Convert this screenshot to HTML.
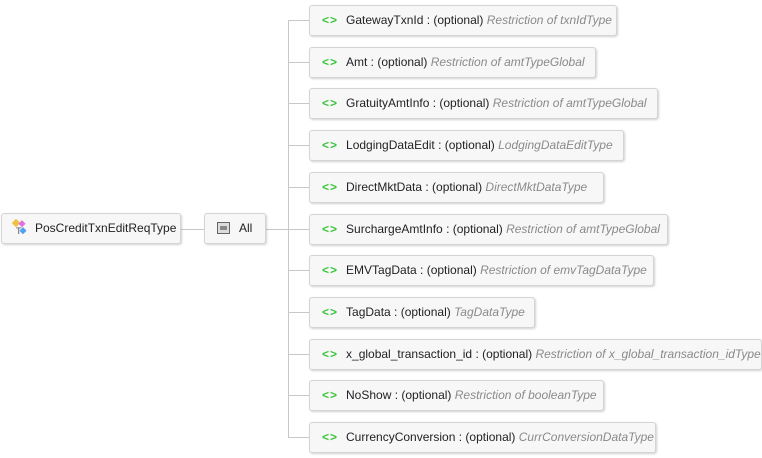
<!DOCTYPE html>
<html><head><meta charset="utf-8"><style>
body{margin:0;width:762px;height:458px;background:#fff;position:relative;overflow:hidden;font-family:"Liberation Sans",sans-serif;font-size:12px;color:#222}
.b{position:absolute;height:31px;box-sizing:border-box;border:1px solid #d4d4d4;border-radius:3px;background:#f7f7f7;box-shadow:1px 1px 2px rgba(0,0,0,.18);line-height:29px;white-space:nowrap;overflow:hidden;padding-left:12px}
.g{color:#3cc43c;font-weight:bold;margin-right:8px;letter-spacing:1px}
i{color:#8a8a8a}
.l{position:absolute;background:#c8c8c8}
</style></head><body>
<div class="l" style="left:181px;top:229px;width:23px;height:1px"></div>
<div class="l" style="left:266px;top:229px;width:22px;height:1px"></div>
<div class="l" style="left:288px;top:20px;width:1px;height:418px"></div>
<div class="b" style="left:1px;top:213px;width:180px;padding-left:10px">
<svg width="18" height="16" style="vertical-align:-3px;margin-right:5px"><rect x="1" y="1" width="6" height="6" fill="#f0c040" transform="rotate(45 4 4)"/><rect x="8" y="2" width="5" height="5" fill="#e070e0" transform="rotate(45 10 4)"/><rect x="9" y="9" width="5" height="5" fill="#50a0f0" transform="rotate(45 11 11)"/><text x="4" y="15" font-size="9" fill="#555">T</text></svg>PosCreditTxnEditReqType</div>
<div class="b" style="left:204px;top:213px;width:62px;">
<svg width="14" height="12" style="vertical-align:-2px;margin-right:8px"><rect x="0.5" y="0.5" width="12" height="11" fill="#ddd" stroke="#666"/><rect x="3" y="4" width="7" height="4" fill="#888"/></svg>All</div>
<div id="c"></div>
<script>
var d=[["GatewayTxnId","Restriction of txnIdType",617],["Amt","Restriction of amtTypeGlobal",596],["GratuityAmtInfo","Restriction of amtTypeGlobal",658],["LodgingDataEdit","LodgingDataEditType",624],["DirectMktData","DirectMktDataType",604],["SurchargeAmtInfo","Restriction of amtTypeGlobal",668],["EMVTagData","Restriction of emvTagDataType",654],["TagData","TagDataType",535],["x_global_transaction_id","Restriction of x_global_transaction_idType",762],["NoShow","Restriction of booleanType",604],["CurrencyConversion","CurrConversionDataType",656]];
var h="";d.forEach(function(e,k){var cy=Math.round(20+k*41.7);
h+='<div class="l" style="left:288px;top:'+cy+'px;width:21px;height:1px"></div>';
h+='<div class="b" style="left:309px;top:'+(cy-15)+'px;width:'+(e[2]-309)+'px"><span class="g">&lt;&gt;</span>'+e[0]+' : (optional) <i>'+e[1]+'</i></div>';});
document.getElementById("c").innerHTML=h;
</script>
</body></html>
